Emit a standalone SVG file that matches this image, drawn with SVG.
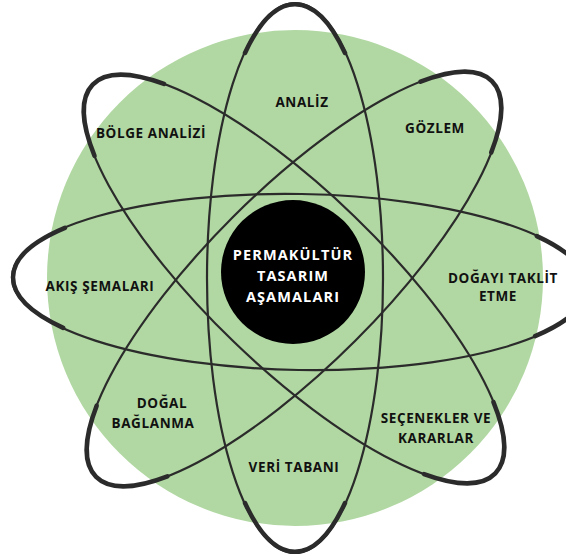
<svg xmlns="http://www.w3.org/2000/svg" width="566" height="560" viewBox="0 0 566 560">
  <defs>
    <style>
      .bg { fill: #b1d8a2; }
      .orbit { fill: none; stroke: #2b2b2b; stroke-width: 2.2; }
      .tip { fill: none; stroke: #2b2b2b; stroke-width: 4.5; stroke-linecap: round; }
      .lbl { font-family: "Open Sans", "Liberation Sans", sans-serif; font-weight: bold; font-size: 13.5px; fill: #111111; text-anchor: middle; letter-spacing: 0.6px; }
      .core { fill: #000000; }
      .coretxt { font-family: "Open Sans", "Liberation Sans", sans-serif; font-weight: bold; font-size: 14.5px; fill: #ffffff; text-anchor: middle; letter-spacing: 1.1px; }
    </style>
  </defs>
  <rect width="566" height="560" fill="#ffffff"/>
  <circle class="bg" cx="295" cy="278" r="248"/>

  <g id="connectors">
    <g transform="translate(300,282) rotate(1)">
      <ellipse class="orbit" rx="288" ry="88"/>
      <path class="tip" d="M 236,-50 A 288 88 0 0 1 236,50"/>
      <path class="tip" d="M -236,50 A 288 88 0 0 1 -236,-50"/>
    </g>
    <g transform="translate(295,278) rotate(90)">
      <ellipse class="orbit" rx="275" ry="88"/>
      <path class="tip" d="M 225,-50 A 275 88 0 0 1 225,50"/>
      <path class="tip" d="M -225,50 A 275 88 0 0 1 -225,-50"/>
    </g>
    <g transform="translate(294,279) rotate(44)">
      <ellipse class="orbit" rx="280" ry="87"/>
      <path class="tip" d="M 229,-50 A 280 87 0 0 1 229,50"/>
      <path class="tip" d="M -229,50 A 280 87 0 0 1 -229,-50"/>
    </g>
    <g transform="translate(294,279) rotate(-45)">
      <ellipse class="orbit" rx="280" ry="87"/>
      <path class="tip" d="M 229,-50 A 280 87 0 0 1 229,50"/>
      <path class="tip" d="M -229,50 A 280 87 0 0 1 -229,-50"/>
    </g>
  </g>

  <g id="center">
    <circle class="core" cx="293" cy="272" r="72"/>
    <text class="coretxt" x="293" y="260">PERMAKÜLTÜR</text>
    <text class="coretxt" x="293" y="281">TASARIM</text>
    <text class="coretxt" x="293" y="302">AŞAMALARI</text>
  </g>

  <g id="analiz"><text class="lbl" x="302" y="107">ANALİZ</text></g>
  <g id="gozlem"><text class="lbl" x="435" y="133">GÖZLEM</text></g>
  <g id="bolge-analizi"><text class="lbl" x="151" y="138">BÖLGE ANALİZİ</text></g>
  <g id="akis-semalari"><text class="lbl" x="100" y="291">AKIŞ ŞEMALARI</text></g>
  <g id="dogayi-taklit-etme">
    <text class="lbl" x="503" y="283">DOĞAYI TAKLİT</text>
    <text class="lbl" x="498" y="301">ETME</text>
  </g>
  <g id="dogal-baglanma">
    <text class="lbl" x="162" y="408">DOĞAL</text>
    <text class="lbl" x="153" y="428">BAĞLANMA</text>
  </g>
  <g id="secenekler-ve-kararlar">
    <text class="lbl" x="436" y="423">SEÇENEKLER VE</text>
    <text class="lbl" x="436" y="443">KARARLAR</text>
  </g>
  <g id="veri-tabani"><text class="lbl" x="294" y="472">VERİ TABANI</text></g>
</svg>
